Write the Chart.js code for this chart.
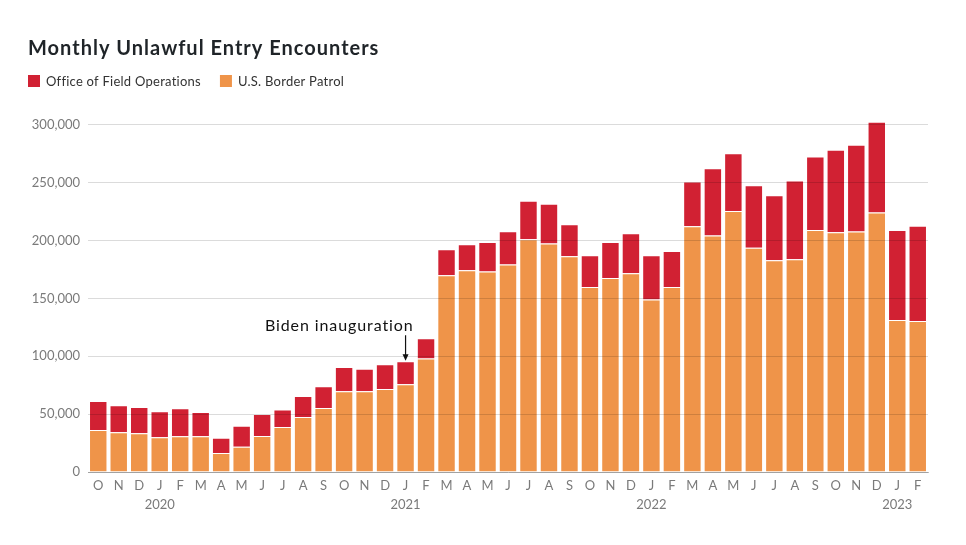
<!DOCTYPE html>
<html>
<head>
<meta charset="utf-8">
<script src="https://cdn.jsdelivr.net/npm/chart.js@4/dist/chart.umd.min.js"></script>
<style>
  html, body { margin: 0; padding: 0; background: #ffffff; }
  #wrap { width: 966px; height: 545px; position: relative; }
</style>
</head>
<body>
<div id="wrap"><canvas id="chart"></canvas></div>
<script>
// ---- Data ----
const chartTitle = 'Monthly Unlawful Entry Encounters';
const seriesNames = ['Office of Field Operations', 'U.S. Border Patrol'];
const seriesColors = ['#d12133', '#ef9449'];
const annotationText = 'Biden inauguration';
const annotationMonth = 'Jan 2021';

const months = [
  'Oct 2019','Nov 2019','Dec 2019','Jan 2020','Feb 2020','Mar 2020','Apr 2020','May 2020','Jun 2020','Jul 2020','Aug 2020','Sep 2020',
  'Oct 2020','Nov 2020','Dec 2020','Jan 2021','Feb 2021','Mar 2021','Apr 2021','May 2021','Jun 2021','Jul 2021','Aug 2021','Sep 2021',
  'Oct 2021','Nov 2021','Dec 2021','Jan 2022','Feb 2022','Mar 2022','Apr 2022','May 2022','Jun 2022','Jul 2022','Aug 2022','Sep 2022',
  'Oct 2022','Nov 2022','Dec 2022','Jan 2023','Feb 2023'
];

const tickLabels = [
  'O','N','D',['J','2020'],'F','M','A','M','J','J','A','S',
  'O','N','D',['J','2021'],'F','M','A','M','J','J','A','S',
  'O','N','D',['J','2022'],'F','M','A','M','J','J','A','S',
  'O','N','D',['J','2023'],'F'
];

const borderPatrol = [
  36300, 34300, 33400, 30000, 30800, 30800, 16400, 21900, 31100, 38900, 47500, 55300,
  69700, 69700, 71800, 75800, 98000, 170000, 174400, 173200, 179200, 201200, 197400, 186500,
  159900, 167700, 171700, 149000, 159900, 212400, 204300, 225600, 193700, 183000, 183900, 209200,
  207200, 207800, 224200, 131400, 130500
];

const fieldOperations = [
  25100, 23300, 22800, 22400, 24200, 21100, 13300, 18100, 19000, 15000, 18200, 18800,
  21100, 19600, 21300, 19900, 17600, 22500, 22400, 25600, 28900, 33100, 34300, 27600,
  27400, 31100, 34600, 38200, 31100, 38600, 58200, 49900, 54100, 56200, 68000, 63400,
  71200, 74900, 78400, 77600, 82200
];

const yTickValues = [0, 50000, 100000, 150000, 200000, 250000, 300000];

// ---- Custom header (title + legend) and annotation ----
const FONT = 'Lato, "Noto Sans", sans-serif';

const decorPlugin = {
  id: 'decor',
  afterDraw(chart) {
    const ctx = chart.ctx;
    ctx.save();
    // Title
    ctx.fillStyle = '#1f2428';
    ctx.font = 'bold 20px ' + FONT;
    ctx.letterSpacing = '1px';
    ctx.textAlign = 'left';
    ctx.textBaseline = 'alphabetic';
    ctx.fillText(chartTitle, 28, 55);

    // Legend
    ctx.font = '13px ' + FONT;
    ctx.letterSpacing = '0.25px';
    ctx.textBaseline = 'middle';
    let x = 28;
    seriesNames.forEach((name, i) => {
      ctx.fillStyle = seriesColors[i];
      ctx.fillRect(x, 75, 12, 12);
      ctx.fillStyle = '#333333';
      ctx.fillText(name, x + 18, 81.5);
      x += 18 + ctx.measureText(name).width + 19;
    });

    // Annotation
    const idx = months.indexOf(annotationMonth);
    const xs = chart.scales.x, ys = chart.scales.y;
    const ax = xs.getPixelForValue(idx);
    const ay = ys.getPixelForValue(borderPatrol[idx] + fieldOperations[idx]);
    ctx.strokeStyle = '#111111';
    ctx.fillStyle = '#111111';
    ctx.lineWidth = 1.2;
    ctx.beginPath();
    ctx.moveTo(ax, ay - 26);
    ctx.lineTo(ax, ay - 4);
    ctx.stroke();
    ctx.beginPath();
    ctx.moveTo(ax - 3, ay - 7);
    ctx.lineTo(ax + 3, ay - 7);
    ctx.lineTo(ax, ay - 0.5);
    ctx.closePath();
    ctx.fill();
    ctx.font = '16px ' + FONT;
    ctx.letterSpacing = '0.9px';
    ctx.textAlign = 'right';
    ctx.textBaseline = 'alphabetic';
    ctx.fillText(annotationText, ax + 8, ay - 30);
    ctx.restore();
  }
};

new Chart(document.getElementById('chart'), {
  type: 'bar',
  data: {
    labels: tickLabels,
    datasets: [
      {
        label: seriesNames[1],
        data: borderPatrol,
        backgroundColor: seriesColors[1],
        borderColor: 'rgba(255,255,255,0.35)',
        borderWidth: 1,
        barPercentage: 0.9,
        categoryPercentage: 1.0
      },
      {
        label: seriesNames[0],
        data: fieldOperations,
        backgroundColor: seriesColors[0],
        borderColor: 'rgba(255,255,255,0.35)',
        borderWidth: 1,
        barPercentage: 0.9,
        categoryPercentage: 1.0
      }
    ]
  },
  options: {
    responsive: true,
    maintainAspectRatio: false,
    animation: false,
    layout: { padding: { top: 119, right: 38, bottom: 0, left: 0 } },
    plugins: {
      legend: { display: false },
      title: { display: false },
      tooltip: { enabled: false }
    },
    scales: {
      x: {
        stacked: true,
        grid: { display: false, drawTicks: false },
        border: { display: true, color: '#bdbdbd', width: 1 },
        ticks: {
          autoSkip: false,
          maxRotation: 0,
          minRotation: 0,
          padding: 4,
          color: '#7a7a7a',
          font: { family: FONT, size: 13, lineHeight: 1.5 }
        },
        afterFit(scale) { scale.height = 73; }
      },
      y: {
        stacked: true,
        min: 0,
        max: 305000,
        afterBuildTicks(scale) { scale.ticks = yTickValues.map(v => ({ value: v })); },
        ticks: {
          padding: 8,
          color: '#7a7a7a',
          font: { family: FONT, size: 13 },
          callback: v => Number(v).toLocaleString('en-US')
        },
        grid: { color: 'rgba(0,0,0,0.14)', drawTicks: false, z: 1 },
        border: { display: false },
        afterFit(scale) { scale.width = 88; }
      }
    }
  },
  plugins: [decorPlugin]
});
</script>
</body>
</html>
